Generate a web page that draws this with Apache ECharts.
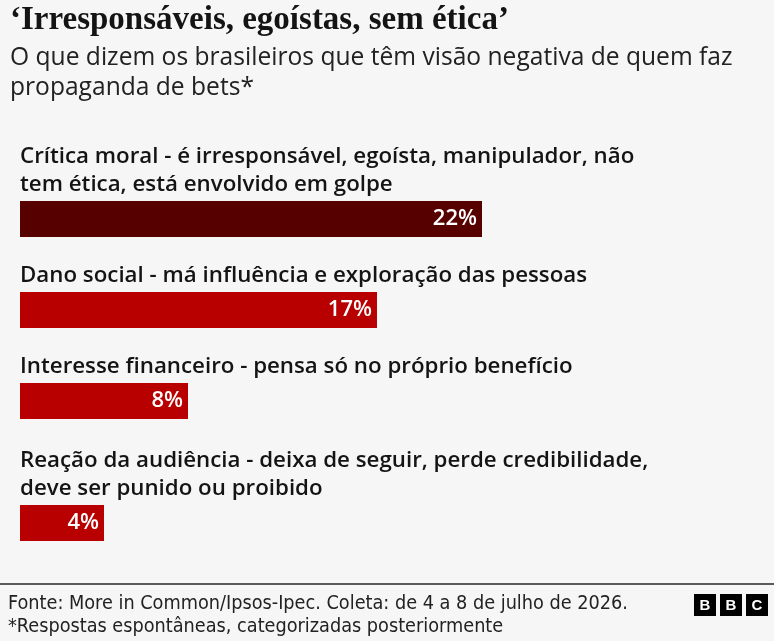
<!DOCTYPE html>
<html>
<head>
<meta charset="utf-8">
<script src="https://cdn.jsdelivr.net/npm/echarts@6/dist/echarts.min.js"></script>
<style>
  html, body { margin: 0; padding: 0; background: #f6f6f6; }
  #chart { width: 774px; height: 641px; }
</style>
</head>
<body>
<div id="chart"></div>
<script>
const categories = [
    'Crítica moral - é irresponsável, egoísta, manipulador, não\ntem ética, está envolvido em golpe',
    'Dano social - má influência e exploração das pessoas',
    'Interesse financeiro - pensa só no próprio benefício',
    'Reação da audiência - deixa de seguir, perde credibilidade,\ndeve ser punido ou proibido'
];
const values = [22, 17, 8, 4];
const barColors = ['#570000', '#b80000', '#b80000', '#b80000'];

const titleText = '‘Irresponsáveis, egoístas, sem ética’';
const subtitleText = 'O que dizem os brasileiros que têm visão negativa de quem faz\npropaganda de bets*';
const sourceText = 'Fonte: More in Common/Ipsos-Ipec. Coleta: de 4 a 8 de julho de 2026.\n*Respostas espontâneas, categorizadas posteriormente';

const barTops = [201, 292, 383, 505];
const barHeight = 36;
const sansFont = '"Open Sans", "Noto Sans", sans-serif';

const chart = echarts.init(document.getElementById('chart'));

const grids = [], xAxes = [], yAxes = [], series = [], labels = [];
categories.forEach((cat, i) => {
    grids.push({left: 20, width: 735, top: barTops[i], height: barHeight});
    xAxes.push({type: 'value', gridIndex: i, min: 0, max: 35, show: false});
    yAxes.push({type: 'category', gridIndex: i, data: [cat], show: false});
    series.push({
        type: 'bar',
        xAxisIndex: i,
        yAxisIndex: i,
        data: [values[i]],
        barWidth: barHeight,
        itemStyle: {color: barColors[i]},
        silent: true,
        animation: false,
        label: {
            show: true,
            position: 'insideRight',
            distance: 5,
            formatter: '{c}%',
            color: '#ffffff',
            fontFamily: sansFont,
            fontSize: 22,
            fontWeight: 600
        }
    });
    labels.push({
        type: 'text',
        left: 20,
        bottom: 641 - barTops[i] + 2,
        style: {
            text: cat,
            font: '600 22.3px ' + sansFont,
            lineHeight: 28,
            fill: '#141414'
        }
    });
});

chart.setOption({
    backgroundColor: '#f6f6f6',
    grid: grids,
    xAxis: xAxes,
    yAxis: yAxes,
    series: series,
    graphic: [
        {
            type: 'text', left: 10, top: 4,
            style: {text: titleText, font: 'bold 33px "Liberation Serif", serif', fill: '#141414'}
        },
        {
            type: 'text', left: 10, top: 43,
            style: {text: subtitleText, font: '24.6px ' + sansFont, lineHeight: 30, fill: '#222222'}
        },
        ...labels,
        {
            type: 'rect', left: 0, top: 583,
            shape: {width: 774, height: 2},
            style: {fill: '#5a5a5a'}
        },
        {
            type: 'text', left: 8, top: 592,
            style: {text: sourceText, font: '19.7px "Liberation Sans Narrow", "DejaVu Sans Condensed", sans-serif', lineHeight: 23, fill: '#222222'}
        },
        ...['B', 'B', 'C'].map((ch, k) => ({
            type: 'group', left: 694 + k * 26, top: 594,
            children: [
                {type: 'rect', shape: {width: 22, height: 22}, style: {fill: '#000000'}},
                {type: 'text', style: {text: ch, x: 11, y: 11.5, align: 'center', verticalAlign: 'middle',
                    font: 'bold 15px "Liberation Sans", sans-serif', fill: '#ffffff'}}
            ]
        }))
    ]
});
</script>
</body>
</html>
